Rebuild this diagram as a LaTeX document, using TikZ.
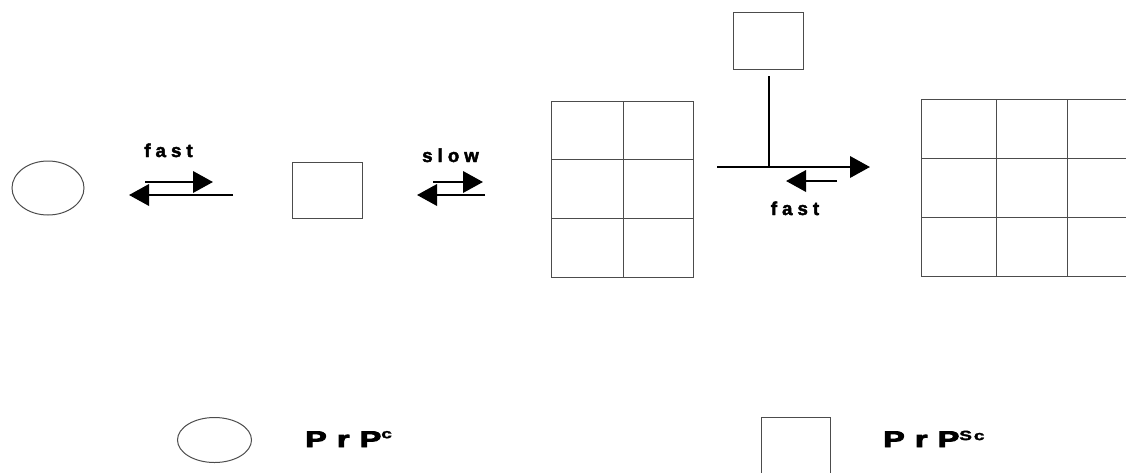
\documentclass[tikz,border=0pt]{standalone}
\usepackage{fontspec}
\setmainfont{Liberation Sans}
\newfontfamily\labfont[LetterSpace=27, BoldFeatures={FakeBold=2.5}]{Liberation Sans}
\newfontfamily\legfont[LetterSpace=32, BoldFeatures={FakeBold=3.5}]{Liberation Sans}
\newfontfamily\supfont[LetterSpace=10, BoldFeatures={FakeBold=2}]{Liberation Sans}
\usetikzlibrary{arrows.meta,shapes.geometric}
\begin{document}
\begin{tikzpicture}[x=0.75pt,y=-0.75pt,
  box/.style={draw=black!70, line width=0.75pt, inner sep=0pt},
  rxn/.style={line width=1.9pt, -{Triangle[length=15pt,width=16pt]}},
  stem/.style={line width=1.3pt},
  lbl/.style={font=\labfont\bfseries\fontsize{14pt}{16pt}\selectfont, inner sep=0pt, anchor=base},
  leg/.style={font=\legfont\bfseries\fontsize{17pt}{19pt}\selectfont, inner sep=0pt, anchor=base west},
]
\useasboundingbox (0,0) rectangle (1126,472);
\clip (0,0) rectangle (1126,472);

% shapes of the scheme
\node[box, ellipse, minimum width=54pt, minimum height=40.5pt] (pc1) at (48,188) {};
\node[box, minimum width=52.5pt, minimum height=42pt] (sc1) at (327,190) {};
\node[box, minimum width=52.5pt, minimum height=42.75pt] (sc2) at (768,40.5) {};

% grid 1 (2 x 3)
\draw[box] (551,101) rectangle (693,277);
\draw[box] (623,101) -- (623,277);
\draw[box] (551,159) -- (693,159) (551,218) -- (693,218);

% grid 2 (3 x 3, cut at the right edge)
\draw[box] (921,99) rectangle (1139,276);
\draw[box] (996,99) -- (996,276) (1067,99) -- (1067,276);
\draw[box] (921,158) -- (1139,158) (921,217) -- (1139,217);

% arrows: fast equilibrium
\coordinate (a1s) at (145,182); \coordinate (a1e) at (213,182);
\coordinate (a2s) at (233,195); \coordinate (a2e) at (129,195);
\draw[rxn] (a1s) -- (a1e);
\draw[rxn] (a2s) -- (a2e);

% arrows: slow equilibrium
\coordinate (b1s) at (433,182); \coordinate (b1e) at (483,182);
\coordinate (b2s) at (485,195); \coordinate (b2e) at (417,195);
\draw[rxn] (b1s) -- (b1e);
\draw[rxn] (b2s) -- (b2e);

% arrows: addition step
\coordinate (v1) at (769,76); \coordinate (v2) at (769,167);
\coordinate (c1s) at (717,167); \coordinate (c1e) at (870,167);
\coordinate (c2s) at (837,181); \coordinate (c2e) at (786,181);
\draw[stem] (v1) -- (v2);
\draw[rxn] (c1s) -- (c1e);
\draw[rxn] (c2s) -- (c2e);

% labels
\node[lbl] (f1) at (168.5,157) {fast};
\node[lbl] (sl) at (450.5,162) {slow};
\node[lbl] (f2) at (795,215) {fast};

% legend
\node[box, ellipse, minimum width=55.5pt, minimum height=33.75pt] (pcl) at (214.5,440) {};
\node[box, minimum width=51.75pt, minimum height=47.25pt] (scl) at (795.5,448.5) {};
\node[leg] (tpc) at (305,447) {\scalebox{1.42}[1]{PrP\raisebox{6.6pt}{\supfont\bfseries\fontsize{10pt}{12pt}\selectfont c}}};
\node[leg] (tsc) at (883,447) {\scalebox{1.42}[1]{PrP\raisebox{5.2pt}{\supfont\bfseries\fontsize{10pt}{12pt}\selectfont Sc}}};
\end{tikzpicture}
\end{document}
